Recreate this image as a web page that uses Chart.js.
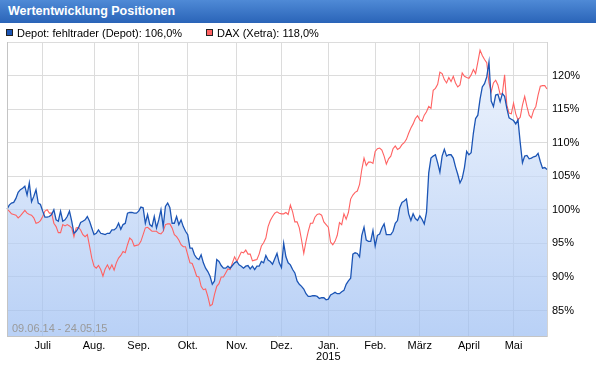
<!DOCTYPE html>
<html>
<head>
<meta charset="utf-8">
<script src="https://cdn.jsdelivr.net/npm/chart.js@4.4.1/dist/chart.umd.min.js"></script>
<style>
  body { margin: 0; width: 596px; height: 366px; overflow: hidden; background: #fff; position: relative;
         font-family: "Liberation Sans", Arial, sans-serif; }
  canvas { position: absolute; left: 0; top: 0; }
  #title { position: absolute; left: 0; top: 0; width: 596px; height: 23px; box-sizing: border-box;
           padding-left: 8px; background: linear-gradient(#4f8ad6, #2a64b8); color: #fff;
           font-weight: bold; font-size: 12.5px; line-height: 23px; }
  .item { position: absolute; top: 26px; font-size: 11px; line-height: 14px; white-space: nowrap; color: #000; }
  .box { position: absolute; top: 3px; left: -11px; width: 5px; height: 5px; border: 1px solid #222; }
</style>
</head>
<body>
<canvas id="chart" width="596" height="366"></canvas>
<div id="title">Wertentwicklung Positionen</div>
<div class="item" style="left:17px"><span class="box" style="background:#1c55b5"></span>Depot: fehltrader (Depot): 106,0%</div>
<div class="item" style="left:217px"><span class="box" style="background:#ff6262"></span>DAX (Xetra): 118,0%</div>
<script>
// trading days 09.06.14 - 22.05.15
const firstDay = '2014-06-09';
const lastDay = '2015-05-22';
const closedDays = ['2014-08-15', '2014-10-03', '2014-12-25', '2014-12-26', '2015-01-01', '2015-04-03', '2015-04-06'];
const monthNames = ['Jan.', 'Feb.', 'März', 'April', 'Mai', 'Juni', 'Juli', 'Aug.', 'Sep.', 'Okt.', 'Nov.', 'Dez.'];
const yTicks = [85, 90, 95, 100, 105, 110, 115, 120, 125];
const periodText = '09.06.14 - 24.05.15';

const depot = [
  100.1, 100.7, 101.0, 101.1, 101.7, 102.6, 103.0, 103.2, 103.5, 102.2,
  104.0, 101.2, 102.0, 103.0, 101.0, 100.8, 99.8, 98.9, 98.9, 99.0,
  99.3, 100.0, 98.5, 98.3, 99.8, 98.3, 98.5, 99.0, 99.8, 98.3,
  96.5, 96.8, 97.3, 98.1, 98.3, 98.5, 99.0, 98.3, 97.3, 96.3,
  96.5, 97.0, 96.5, 96.4, 96.3, 96.5, 96.5, 97.0, 97.0, 97.3,
  98.0, 97.1, 97.8, 98.0, 99.5, 99.6, 99.6, 99.5, 99.5, 99.8,
  100.4, 100.3, 98.0, 99.3, 97.8, 97.5, 99.0, 97.3, 98.5, 100.0,
  97.5, 100.5, 101.0, 100.3, 98.0, 98.0, 99.0, 97.8, 98.5, 97.5,
  96.8, 96.3, 94.3, 94.3, 93.3, 92.8, 92.6,
  93.3, 92.1, 91.3, 90.8, 90.1, 88.9, 89.4, 92.6, 92.3, 91.7,
  91.3, 91.3, 91.6, 91.3, 91.7, 92.1, 92.3, 91.8, 91.6, 91.3,
  91.6, 91.7, 91.2, 91.6, 91.1, 91.6, 91.6, 92.3, 92.1, 93.2,
  92.5, 92.3, 91.9, 92.7, 93.5, 92.1, 91.4, 95.0, 93.0, 92.1,
  91.8, 91.1, 90.6, 89.4, 88.9, 88.6, 88.2, 87.5, 87.1, 87.1,
  87.2, 87.2, 87.1, 86.8, 86.9, 86.9, 86.6, 86.7, 87.3, 87.5,
  87.7,
  87.5, 87.5, 87.8, 88.0, 88.9, 89.4, 89.8, 93.4, 93.6, 93.5,
  93.0, 96.2, 97.4, 95.5, 95.3, 95.3, 96.9, 94.6, 96.2, 96.4,
  97.3, 97.9, 96.3, 96.3, 96.3, 96.8, 98.0, 98.4, 100.3, 101.1,
  101.3, 101.6, 99.4, 98.4, 99.4, 98.7, 98.4, 99.1, 98.6, 97.9,
  99.6, 105.5, 107.7, 108.0, 108.2, 107.0, 105.6, 108.0, 109.0,
  108.0, 108.2, 108.2, 107.7, 106.4, 105.3, 104.0, 104.7, 106.3, 108.7,
  108.2, 108.5, 111.4, 113.6, 114.1, 116.5, 118.3, 118.8, 119.8, 122.0,
  116.2, 115.4, 117.1, 117.2, 116.1, 117.3, 116.9, 115.1, 113.7, 113.5,
  113.3, 112.8, 113.4, 110.0, 107.0, 108.0, 108.1, 107.6, 107.7, 107.9,
  108.0, 108.4, 107.2, 106.2, 106.3, 106.0
];

const dax = [
  100.1, 99.8, 99.4, 99.3, 99.2, 98.8, 99.1, 99.5, 99.9, 99.5,
  99.3, 99.2, 98.8, 98.0, 98.1, 98.4, 99.0, 99.8, 100.0, 99.5,
  99.5, 98.0, 97.5, 96.6, 96.6, 97.8, 97.6, 97.8, 97.6, 97.3,
  96.0, 97.3, 97.4, 97.0, 96.3, 96.0, 96.3, 94.6, 92.8, 91.6,
  91.3, 91.7, 91.1, 90.1, 91.2, 91.8, 91.1, 91.8, 91.0, 92.1,
  92.8, 93.2, 93.8, 93.6, 94.8, 95.8, 95.5, 94.6, 94.7, 94.8,
  95.3, 96.3, 97.3, 97.4, 97.1, 96.8, 96.8, 96.8, 96.5, 96.4,
  96.8, 97.8, 97.9, 97.9, 97.3, 96.3, 96.0, 95.5, 94.8, 94.5,
  94.5, 93.3, 92.1, 92.0, 91.1, 90.1, 90.0,
  88.6, 88.1, 88.2, 87.1, 85.7, 85.9, 87.4, 88.6, 89.0, 90.0,
  90.0, 90.6, 91.2, 91.1, 92.1, 93.0, 92.3, 93.0, 93.7, 93.6,
  94.0, 93.4, 93.4, 92.4, 92.5, 92.6, 93.4, 94.6, 95.1, 95.8,
  97.5, 98.4, 99.0, 99.5, 99.7, 99.5, 99.4, 99.4, 99.6, 99.3,
  100.7, 99.7, 98.2, 98.2, 97.3, 95.5, 93.5, 95.3, 96.8, 98.0,
  98.0, 98.9, 99.3, 99.4, 99.2, 98.2, 97.8, 97.4, 95.2, 94.8,
  95.3,
  96.2, 98.1, 97.8, 99.4, 98.6, 99.6, 101.6, 102.2, 102.6, 102.8,
  103.8, 106.0, 107.7, 106.6, 107.1, 107.1, 106.9, 108.7, 109.1, 109.2,
  108.9, 108.0, 106.8, 107.6, 108.0, 109.1, 109.5, 109.0, 109.2, 109.7,
  110.0, 110.5, 111.4, 112.2, 112.8, 113.6, 114.0, 113.4, 113.2, 114.1,
  114.6, 115.4, 115.1, 117.8, 118.1, 118.7, 120.5, 120.3, 119.4,
  118.9, 119.7, 119.1, 119.9, 118.9, 118.3, 118.6, 120.4, 119.9, 119.7,
  119.6, 120.1, 120.9, 120.3, 122.0, 123.8, 123.0, 122.4, 121.9, 118.9,
  117.6, 118.9, 119.3, 118.6, 117.2, 117.3, 120.1, 115.6, 114.4, 114.3,
  115.9, 114.3, 113.4, 113.8, 115.6, 116.9, 115.4, 114.1, 113.7, 114.8,
  115.4, 117.1, 118.4, 118.5, 118.5, 118.0
];

// build trading day labels and month tick labels
const tradingDays = [];
const monthLabels = [];
let d = new Date(firstDay + 'T00:00:00Z');
const end = new Date(lastDay + 'T00:00:00Z');
while (d <= end) {
  const iso = d.toISOString().slice(0, 10);
  const wd = d.getUTCDay();
  if (wd !== 0 && wd !== 6 && !closedDays.includes(iso)) {
    const prev = tradingDays.length ? tradingDays[tradingDays.length - 1] : null;
    const m = d.getUTCMonth();
    if (prev && prev.slice(5, 7) !== iso.slice(5, 7)) {
      monthLabels.push(m === 0 ? [monthNames[m], String(d.getUTCFullYear())] : monthNames[m]);
    } else {
      monthLabels.push(null);
    }
    tradingDays.push(iso);
  }
  d.setUTCDate(d.getUTCDate() + 1);
}

const font = { family: '"Liberation Sans", Arial, sans-serif', size: 11, lineHeight: 1 };

const frame = {
  id: 'frame',
  afterDatasetsDraw(chart) {
    const { ctx, chartArea: a } = chart;
    ctx.save();
    ctx.strokeStyle = '#c4c4c4';
    ctx.lineWidth = 1;
    ctx.beginPath();
    ctx.moveTo(a.left + 0.5, a.top);
    ctx.lineTo(a.left + 0.5, a.bottom);
    ctx.stroke();
    ctx.fillStyle = '#9a9a9a';
    ctx.font = '11px "Liberation Sans", Arial, sans-serif';
    ctx.textBaseline = 'alphabetic';
    ctx.fillText(periodText, a.left + 5, a.bottom - 4);
    ctx.restore();
  }
};

const config = {
  type: 'line',
  data: {
    labels: tradingDays,
    datasets: [{
      label: 'Depot: fehltrader (Depot)',
      data: depot,
      borderColor: '#1c55b5',
      borderWidth: 1.3,
      pointRadius: 0,
      tension: 0,
      fill: 'start',
      backgroundColor: (c) => {
        const a = c.chart.chartArea;
        if (!a) return 'rgba(0,0,0,0)';
        const g = c.chart.ctx.createLinearGradient(0, a.top, 0, a.bottom);
        g.addColorStop(0, 'rgba(234,241,252,0.7)');
        g.addColorStop(1, 'rgba(155,189,242,0.7)');
        return g;
      }
    }, {
      label: 'DAX (Xetra)',
      data: dax,
      borderColor: '#ff6262',
      borderWidth: 1.1,
      pointRadius: 0,
      tension: 0,
      fill: false
    }]
  },
  options: {
    responsive: false,
    animation: false,
    layout: { padding: { left: 7, top: 42, right: 0, bottom: 0 } },
    plugins: {
      legend: { display: false },
      tooltip: { enabled: false },
      filler: { drawTime: 'beforeDatasetsDraw' }
    },
    scales: {
      x: {
        grid: { color: '#dcdcdc', drawTicks: false },
        border: { color: '#c4c4c4' },
        ticks: {
          autoSkip: false, maxRotation: 0, padding: 4, color: '#000', font: font,
          callback: (v, i) => monthLabels[i]
        },
        afterFit: (s) => { s.height = 30; }
      },
      y: {
        position: 'right',
        min: 81.2,
        max: 125,
        afterBuildTicks: (s) => { s.ticks = yTicks.map(v => ({ value: v })); },
        grid: { color: '#dcdcdc', drawTicks: false },
        border: { color: '#d4d4d4' },
        ticks: {
          padding: 5, color: '#000', font: font,
          callback: (v) => v === 125 ? '' : v + '%'
        },
        afterFit: (s) => { s.width = 49; }
      }
    }
  },
  plugins: [frame]
};

const myChart = new Chart(document.getElementById('chart'), config);
</script>
</body>
</html>
